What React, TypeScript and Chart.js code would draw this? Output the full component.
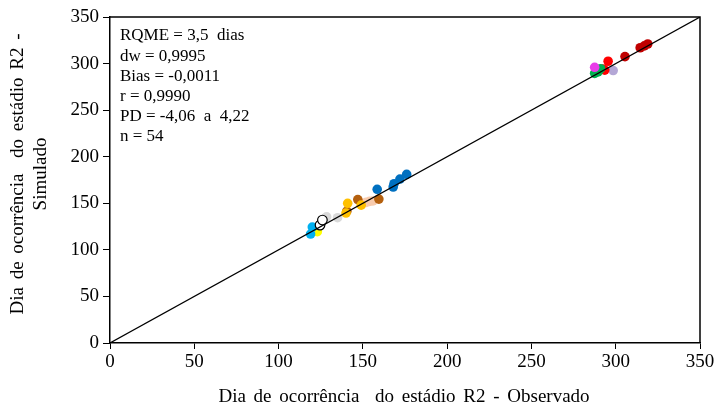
import React, { useEffect, useRef } from "react";
import { Chart, registerables } from "chart.js";

Chart.register(...registerables);

const cyanObs = [119, 120];
const cyanSim = [117, 124.5];
const yellowObs = [120.5, 122, 123, 122.5];
const yellowSim = [119.5, 121.5, 119.5, 123];
const blackObs = [124.6, 126];
const blackSim = [126.6, 132];
const grayObs = [128.5, 135];
const graySim = [135.5, 134.5];
const goldObs = [140, 141, 149];
const goldSim = [139.5, 150, 148];
const brownObs = [140.5, 147, 159.5];
const brownSim = [141.5, 154, 154.5];
const peachObs = [150, 152, 154, 156];
const peachSim = [150, 151, 152, 152.5];
const blueObs = [158.5, 168, 168.5, 172, 176];
const blueSim = [165, 167.5, 171, 176, 181];
const darkRedObs = [305.5, 314.5, 317, 319];
const darkRedSim = [307.5, 317, 319, 321];
const redObs = [293.5, 295.5, 292.5];
const redSim = [293, 302.5, 294];
const magentaObs = [287.5];
const magentaSim = [296];
const greenObs = [287.5, 289.5, 291];
const greenSim = [289.5, 291, 294.5];
const lavenderObs = [298.5];
const lavenderSim = [292.5];

const lineX = [0, 350];
const lineY = [0, 350];

const statsLines = [
  "RQME = 3,5  dias",
  "dw = 0,9995",
  "Bias = -0,0011",
  "r = 0,9990",
  "PD = -4,06  a  4,22",
  "n = 54",
];

const xTitle = "Dia de ocorrência  do estádio R2 - Observado";
const yTitle = ["Dia de ocorrência  do estádio R2 -", "Simulado"];

const FONT = "'Liberation Serif', 'Times New Roman', serif";

function pts(xs: number[], ys: number[]) {
  return xs.map((x, i) => ({ x, y: ys[i] }));
}

function series(xs: number[], ys: number[], fill: string, border?: string) {
  return {
    type: "scatter" as const,
    data: pts(xs, ys),
    backgroundColor: fill,
    borderColor: border || fill,
    borderWidth: border ? 1.2 : 0,
    pointRadius: 4.8,
    pointHoverRadius: 4.8,
  };
}

const framePlugin = {
  id: "frame",
  afterDatasetsDraw(chart: any) {
    const { ctx, chartArea } = chart;
    ctx.save();
    ctx.strokeStyle = "#000";
    ctx.lineWidth = 1.5;
    ctx.beginPath();
    ctx.moveTo(chartArea.left, chartArea.top);
    ctx.lineTo(chartArea.right, chartArea.top);
    ctx.lineTo(chartArea.right, chartArea.bottom);
    ctx.stroke();
    ctx.fillStyle = "#000";
    ctx.font = `17px ${FONT}`;
    ctx.textBaseline = "middle";
    ctx.textAlign = "left";
    statsLines.forEach((t, i) => {
      ctx.fillText(t, chartArea.left + 10, 36 + i * 20.2);
    });
    // axis titles
    ctx.font = `19px ${FONT}`;
    ctx.textAlign = "center";
    (ctx as any).wordSpacing = "3px";
    ctx.fillText(xTitle, (chartArea.left + chartArea.right) / 2 - 1, 397);
    ctx.save();
    ctx.translate(18, 174);
    ctx.rotate(-Math.PI / 2);
    ctx.fillText(yTitle[0], 0, 0);
    ctx.fillText(yTitle[1], 0, 23);
    ctx.restore();
    ctx.restore();
  },
};

export default function App() {
  const ref = useRef<HTMLCanvasElement>(null);
  useEffect(() => {
    if (!ref.current) return;
    const chart = new Chart(ref.current, {
      type: "scatter",
      data: {
        datasets: [
          {
            type: "line",
            data: pts(lineX, lineY),
            borderColor: "#000",
            borderWidth: 1.2,
            pointRadius: 0,
            fill: false,
          } as any,
          series(blackObs, blackSim, "#FFFFFF", "#000000"),
          series(grayObs, graySim, "#D9D9D9"),
          series(cyanObs, cyanSim, "#00B0F0"),
          series(yellowObs, yellowSim, "#FFFF00"),
          series(goldObs, goldSim, "#FFC000"),
          series(brownObs, brownSim, "#B4600E"),
          series(peachObs, peachSim, "#F8CBAD"),
          series(blueObs, blueSim, "#0070C0"),
          series(darkRedObs, darkRedSim, "#C00000"),
          series(magentaObs, magentaSim, "#E83CE8"),
          series(greenObs, greenSim, "#00B050"),
          series(redObs, redSim, "#FF0000"),
          series(lavenderObs, lavenderSim, "#B4A7D6"),
        ],
      },
      options: {
        animation: false,
        responsive: false,
        layout: { padding: { top: 17, right: 18, left: 0, bottom: 0 } },
        plugins: {
          legend: { display: false },
          tooltip: { enabled: false },
        },
        scales: {
          x: {
            type: "linear",
            min: 0,
            max: 350,
            ticks: {
              stepSize: 50,
              color: "#000",
              font: { family: FONT, size: 19 },
              padding: 2,
            },
            grid: {
              drawOnChartArea: false,
              drawTicks: true,
              tickLength: 6,
              color: "#000",
            },
            border: { display: true, color: "#000", width: 1.5 },
            afterFit(scale: any) {
              scale.height = 64;
            },
          },
          y: {
            type: "linear",
            min: 0,
            max: 350,
            ticks: {
              stepSize: 50,
              color: "#000",
              font: { family: FONT, size: 19 },
              padding: 4,
            },
            grid: {
              drawOnChartArea: false,
              drawTicks: true,
              tickLength: 7,
              color: "#000",
            },
            border: { display: true, color: "#000", width: 1.5 },
            afterFit(scale: any) {
              scale.width = 110;
            },
          },
        },
      },
      plugins: [framePlugin],
    });
    return () => chart.destroy();
  }, []);
  return (
    <div style={{ position: "fixed", left: 0, top: 0, width: 718, height: 407, background: "#fff" }}>
      <canvas ref={ref} width={718} height={407} style={{ display: "block" }} />
    </div>
  );
}
